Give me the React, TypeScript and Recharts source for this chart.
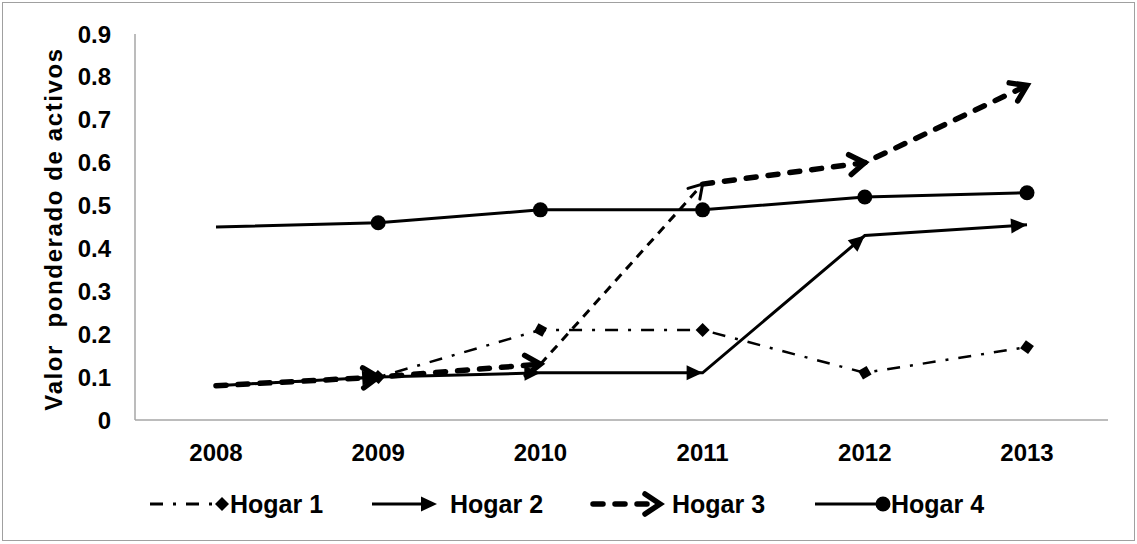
import React from 'react';
import { LineChart, Line, XAxis, YAxis } from 'recharts';

const years = ['2008', '2009', '2010', '2011', '2012', '2013'];
const hogar1 = [0.08, 0.10, 0.21, 0.21, 0.11, 0.17];
const hogar2 = [0.08, 0.10, 0.11, 0.11, 0.43, 0.455];
const hogar3 = [0.08, 0.10, 0.13, 0.55, 0.60, 0.78];
const hogar4 = [0.45, 0.46, 0.49, 0.49, 0.52, 0.53];
const yTicks = [0, 0.1, 0.2, 0.3, 0.4, 0.5, 0.6, 0.7, 0.8, 0.9];
const yTickLabels = ['0', '0.1', '0.2', '0.3', '0.4', '0.5', '0.6', '0.7', '0.8', '0.9'];
const seriesNames = ['Hogar 1', 'Hogar 2', 'Hogar 3', 'Hogar 4'];
const yTitle = 'Valor  ponderado de activos';

// Hogar 3 is drawn thick except for its 2010 -> 2011 segment, which is thin.
const thinFrom = 2;
const thinTo = 3;

const data = years.map((y, i) => ({
  year: y,
  h1: hogar1[i],
  h2: hogar2[i],
  h3a: i <= thinFrom ? hogar3[i] : null,
  h3t: i >= thinFrom && i <= thinTo ? hogar3[i] : null,
  h3b: i >= thinTo ? hogar3[i] : null,
  h4: hogar4[i],
}));

const FONT = '"Liberation Sans", Arial, Helvetica, sans-serif';
const AXIS = '#a6a6a6';

type Kind = 'diamond' | 'triangle' | 'chevron' | 'chevronThin' | 'oval';

function drawMarker(kind: Kind, cx: number, cy: number, angle: number, key: string) {
  const t = `translate(${cx},${cy}) rotate(${angle})`;
  if (kind === 'diamond') {
    return <polygon key={key} transform={t} points="-7,0 0,-7 7,0 0,7" fill="#000" stroke="none" />;
  }
  if (kind === 'triangle') {
    return <polygon key={key} transform={t} points="0,0 -16,-7.5 -16,7.5" fill="#000" stroke="none" />;
  }
  if (kind === 'chevron') {
    return (
      <polyline key={key} transform={t} points="-15,-10 0,0 -15,10" fill="none" stroke="#000"
        strokeWidth={5.5} strokeLinecap="round" strokeLinejoin="miter" strokeDasharray="none" />
    );
  }
  if (kind === 'chevronThin') {
    return (
      <polyline key={key} transform={t} points="-13,-8 0,0 -13,8" fill="none" stroke="#000"
        strokeWidth={3} strokeLinecap="round" strokeLinejoin="miter" strokeDasharray="none" />
    );
  }
  return <circle key={key} cx={cx} cy={cy} r={7.5} fill="#000" stroke="none" />;
}

function makeDot(kind: Kind) {
  return (props: any) => {
    const { cx, cy, index, points, dataKey } = props;
    const key = `m-${dataKey}-${index}`;
    if (cx == null || cy == null || !Array.isArray(points) || index === 0) return <g key={key} />;
    const prev = points[index - 1];
    if (!prev || prev.y == null || prev.x == null) return <g key={key} />;
    const angle = (Math.atan2(cy - prev.y, cx - prev.x) * 180) / Math.PI;
    return drawMarker(kind, cx, cy, angle, key);
  };
}

const tickStyle = { fill: '#000', fontSize: 24, fontWeight: 700, fontFamily: FONT };

const YTitle = (props: any) => {
  const vb = props.viewBox || { x: 0, y: 0, width: 0, height: 0 };
  const cx = vb.x + 53;
  const cy = vb.y + vb.height / 2 + 2;
  return (
    <text x={cx} y={cy} transform={`rotate(-90,${cx},${cy})`} textAnchor="middle" dominantBaseline="central"
      style={{ fontSize: 24, fontWeight: 700, fontFamily: FONT, fill: '#000', whiteSpace: 'pre', letterSpacing: 1.6 }}>
      {yTitle}
    </text>
  );
};

const legendX = [150, 372, 593, 815];
const legendLen = [72, 65, 67, 68];

function LegendBar() {
  const yy = 34;
  return (
    <svg width={1137} height={64} style={{ position: 'absolute', left: 0, top: 470 }}>
      {seriesNames.map((name, i) => {
        const x0 = legendX[i];
        const x1 = x0 + legendLen[i];
        let line: React.ReactNode;
        let mk: React.ReactNode;
        let textX = x1 + 10;
        if (i === 0) {
          line = <line x1={x0} y1={yy} x2={x1 - 6} y2={yy} stroke="#000" strokeWidth={3} strokeDasharray="13 10 3 10" />;
          mk = drawMarker('diamond', x1, yy, 0, 'lg0');
          textX = x1 + 8;
        } else if (i === 1) {
          line = <line x1={x0} y1={yy} x2={x1 - 8} y2={yy} stroke="#000" strokeWidth={3} />;
          mk = drawMarker('triangle', x1, yy, 0, 'lg1');
          textX = x1 + 13;
        } else if (i === 2) {
          line = <line x1={x0} y1={yy} x2={x1 - 4} y2={yy} stroke="#000" strokeWidth={5.5} strokeDasharray="10 12" strokeLinecap="round" />;
          mk = drawMarker('chevron', x1, yy, 0, 'lg2');
          textX = x1 + 12;
        } else {
          line = <line x1={x0} y1={yy} x2={x1} y2={yy} stroke="#000" strokeWidth={3} />;
          mk = drawMarker('oval', x1, yy, 0, 'lg3');
          textX = x1 + 8;
        }
        return (
          <g key={name}>
            {line}
            {mk}
            <text x={textX} y={yy} dominantBaseline="central"
              style={{ fontSize: 25, fontWeight: 700, fontFamily: FONT, fill: '#000' }}>{name}</text>
          </g>
        );
      })}
    </svg>
  );
}

export default function App() {
  return (
    <div style={{ position: 'absolute', left: 0, top: 0, width: 1137, height: 544, background: '#fff' }}>
      <div style={{ position: 'absolute', left: 2, top: 2, width: 1131, height: 537, border: '1px solid #a0a0a0' }} />
      <LineChart width={1137} height={544} data={data} margin={{ top: 34, right: 29, bottom: 84, left: 0 }}
        style={{ position: 'absolute', left: 0, top: 0 }}>
        <XAxis dataKey="year" padding={{ left: 81, right: 81 }} axisLine={{ stroke: AXIS, strokeWidth: 1.5 }}
          tickLine={false} tickSize={0} tickMargin={24} tick={tickStyle} height={40} interval={0} />
        <YAxis width={135} domain={[0, 0.9]} ticks={yTicks} interval={0}
          tickFormatter={(v: number) => yTickLabels[Math.round(v * 10)]}
          axisLine={{ stroke: AXIS, strokeWidth: 1.5 }} tickLine={false} tickSize={0} tickMargin={24}
          tick={tickStyle} label={<YTitle />} />
        <Line dataKey="h1" stroke="#000" strokeWidth={2.5} strokeDasharray="13 10 3 10"
          dot={makeDot('diamond')} activeDot={false} isAnimationActive={false} />
        <Line dataKey="h2" stroke="#000" strokeWidth={3}
          dot={makeDot('triangle')} activeDot={false} isAnimationActive={false} />
        <Line dataKey="h3a" stroke="#000" strokeWidth={5.5} strokeDasharray="10 12" strokeLinecap="round"
          dot={makeDot('chevron')} activeDot={false} isAnimationActive={false} />
        <Line dataKey="h3t" stroke="#000" strokeWidth={3} strokeDasharray="9 7"
          dot={makeDot('chevronThin')} activeDot={false} isAnimationActive={false} />
        <Line dataKey="h3b" stroke="#000" strokeWidth={5.5} strokeDasharray="10 12" strokeLinecap="round"
          dot={makeDot('chevron')} activeDot={false} isAnimationActive={false} />
        <Line dataKey="h4" stroke="#000" strokeWidth={3}
          dot={makeDot('oval')} activeDot={false} isAnimationActive={false} />
      </LineChart>
      <LegendBar />
    </div>
  );
}
